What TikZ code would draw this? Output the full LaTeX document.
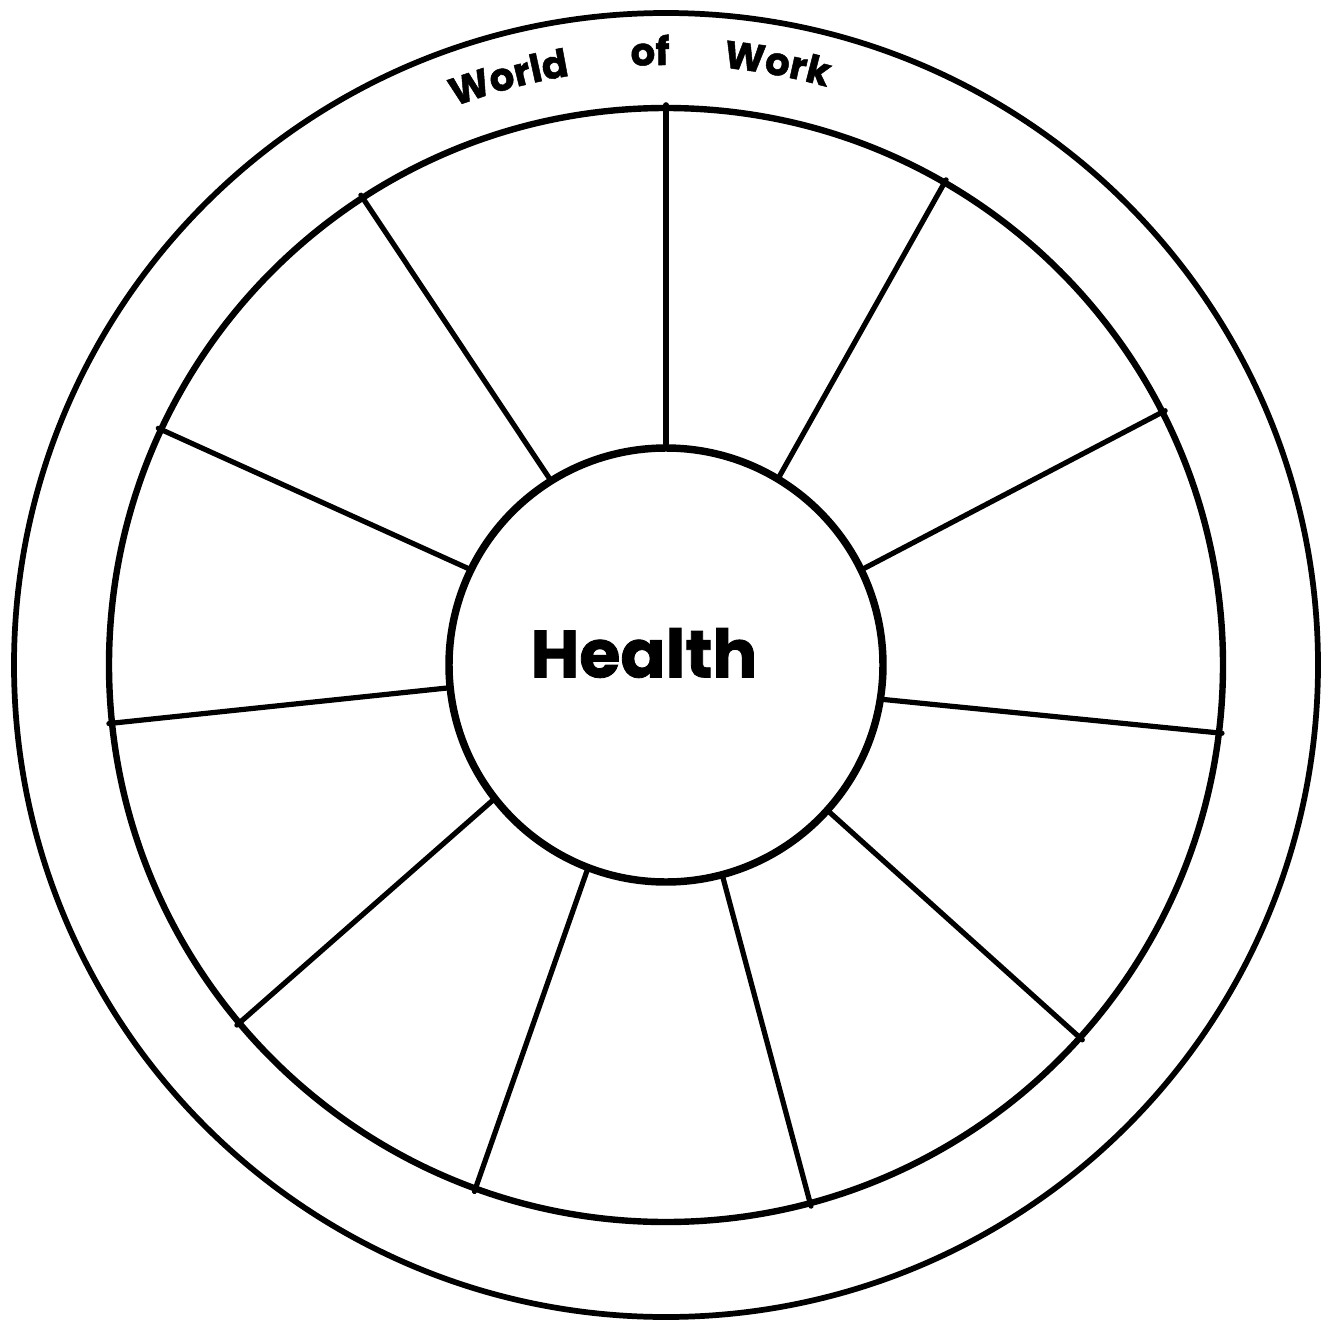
\documentclass[tikz,border=0pt]{standalone}
\usepackage{fontspec}
\newfontfamily\wheelfont{Poppins}[BoldFeatures={FakeBold=1.2}]
\usetikzlibrary{decorations.text}
\tikzset{
  ring/.style={draw=black, line width=#1},
  spoke/.style={draw=black, line width=3.9pt, line cap=round},
  titlefont/.style={},
}
\begin{document}
\begin{tikzpicture}[x=0.75pt,y=0.75pt]
\useasboundingbox (0,0) rectangle (1325,-1320);
\coordinate (C) at (666,-665);
% circles
\node[circle, ring=4.3pt, minimum size=1304*0.75pt, inner sep=0pt] (outer) at (C) {};
\node[circle, ring=4.8pt, minimum size=1114*0.75pt, inner sep=0pt] (mid) at (C) {};
\node[circle, ring=5.6pt, minimum size=434*0.75pt, inner sep=0pt] (hub) at (C) {};
\node[font=\wheelfont\bfseries\fontsize{50}{60}\selectfont, inner sep=0pt] (label) at (644,-653) {Health};
% spokes (inner angle / outer angle)
\foreach \ai/\ao [count=\i] in {90.8/90.3, 59.8/60.0, 26.8/27.6, -9.2/-7.5, -42.2/-42.7, -75.9/-75.7, 249.9/250.8, 218.7/220.2, 186.0/186.0, 154.8/155.6, 122.2/123.0}{
  \coordinate (si\i) at (hub.\ai);
  \coordinate (so\i) at (mid.\ao);
  \draw[spoke] (si\i) -- (so\i);
}
% curved title
\path[decorate, decoration={text along path, text align=center,
  text={|\wheelfont\bfseries\fontsize{29}{30}\selectfont|World}}]
  ([shift={(124:597)}]C) arc[start angle=124, end angle=86, radius=597];
\path[decorate, decoration={text along path, text align=center,
  text={|\wheelfont\bfseries\fontsize{29}{30}\selectfont|of}}]
  ([shift={(101:600)}]C) arc[start angle=101, end angle=82, radius=600];
\path[decorate, decoration={text along path, text align=center,
  text={|\wheelfont\bfseries\fontsize{29}{30}\selectfont|Work}}]
  ([shift={(98:600)}]C) arc[start angle=98, end angle=61, radius=600];
\end{tikzpicture}
\end{document}
